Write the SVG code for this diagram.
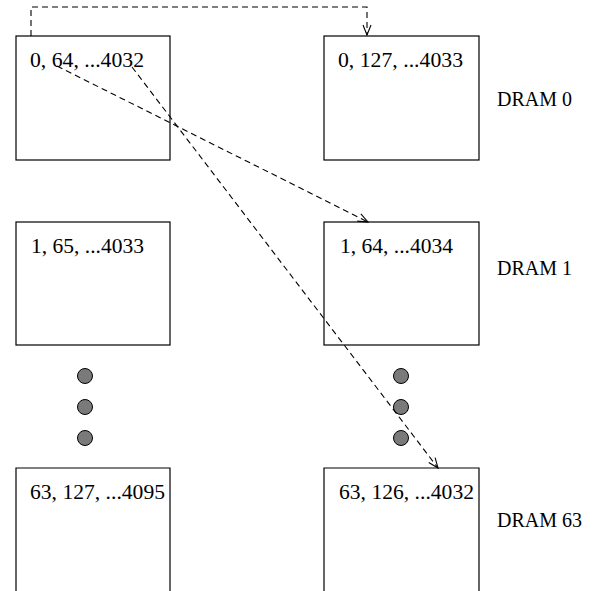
<svg xmlns="http://www.w3.org/2000/svg" width="611" height="591" viewBox="0 0 611 591">
<style>
.box{fill:none;stroke:#000;stroke-width:1.2}
.t{font-family:"Liberation Serif","Times New Roman",serif;font-size:20px;fill:#000}
.c{fill:none;stroke:#000;stroke-width:1.1;stroke-dasharray:6,4}
.dot{fill:#7a7a7a;stroke:#000;stroke-width:1}
</style>
<defs>
<marker id="ah" markerWidth="12" markerHeight="10" refX="11" refY="5" orient="auto" markerUnits="userSpaceOnUse">
<path d="M1,1 L11,5 L1,9" fill="none" stroke="#000" stroke-width="1.1"/>
</marker>
</defs>
<rect width="611" height="591" fill="#fff"/>
<g id="n00"><rect class="box" x="16" y="36" width="154" height="124"/><text class="t" x="30" y="67" textLength="114" lengthAdjust="spacingAndGlyphs">0, 64, ...4032</text></g>
<g id="n01"><rect class="box" x="324" y="36" width="155" height="124"/><text class="t" x="338" y="67" textLength="125" lengthAdjust="spacingAndGlyphs">0, 127, ...4033</text></g>
<g id="n10"><rect class="box" x="16" y="222" width="154" height="123"/><text class="t" x="31" y="253" textLength="113" lengthAdjust="spacingAndGlyphs">1, 65, ...4033</text></g>
<g id="n11"><rect class="box" x="324" y="222" width="155" height="123"/><text class="t" x="340" y="253" textLength="113" lengthAdjust="spacingAndGlyphs">1, 64, ...4034</text></g>
<g id="n20"><path class="box" d="M16,600 V468 H170 V600"/><text class="t" x="30" y="499" textLength="135" lengthAdjust="spacingAndGlyphs">63, 127, ...4095</text></g>
<g id="n21"><path class="box" d="M324,600 V468 H479 V600"/><text class="t" x="339" y="499" textLength="135" lengthAdjust="spacingAndGlyphs">63, 126, ...4032</text></g>
<g id="dots">
<circle class="dot" cx="85" cy="376" r="7.5"/><circle class="dot" cx="85" cy="407" r="7.5"/><circle class="dot" cx="85" cy="438" r="7.5"/>
<circle class="dot" cx="401" cy="376" r="7.5"/><circle class="dot" cx="401" cy="407" r="7.5"/><circle class="dot" cx="401" cy="438" r="7.5"/>
</g>
<g id="labels">
<text class="t" x="497" y="106">DRAM 0</text>
<text class="t" x="497" y="275">DRAM 1</text>
<text class="t" x="497" y="527">DRAM 63</text>
</g>
<g id="connectors">
<path class="c" d="M31,36 V7 H367 V35" marker-end="url(#ah)"/>
<path class="c" d="M57,66 L368,222" marker-end="url(#ah)"/>
<path class="c" d="M132,67 L438,468" marker-end="url(#ah)"/>
</g>
</svg>
